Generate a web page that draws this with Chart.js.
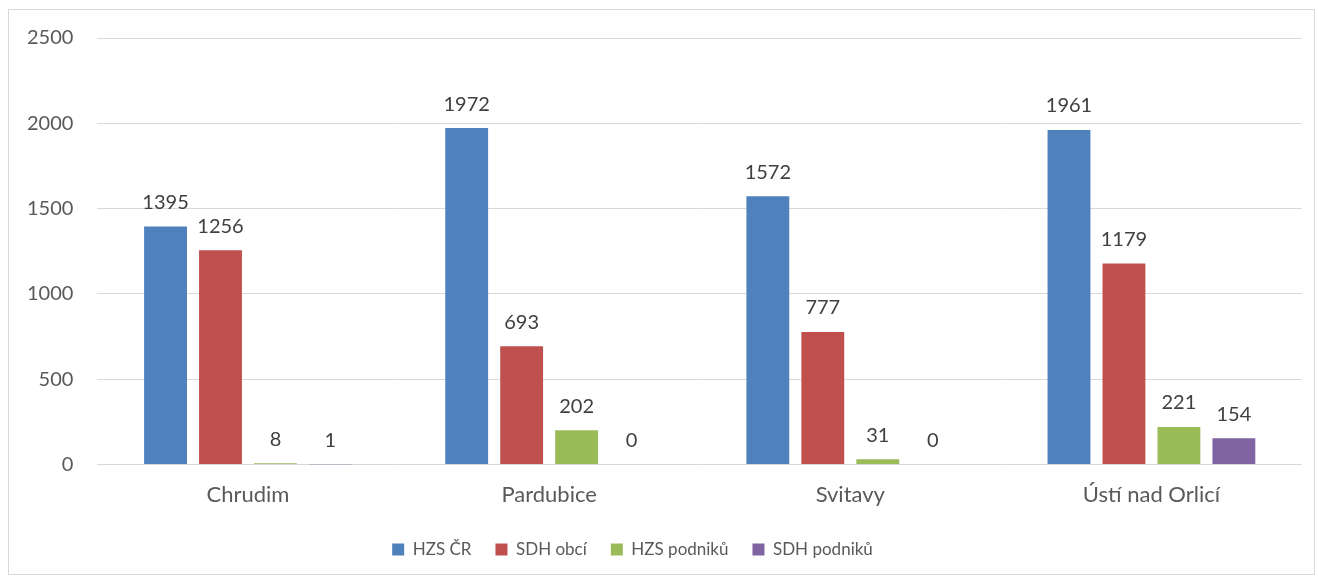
<!DOCTYPE html>
<html>
<head>
<meta charset="utf-8">
<script src="https://cdn.jsdelivr.net/npm/chart.js@4"></script>
<style>
  html, body { margin: 0; padding: 0; background: #fff; }
  #frame {
    position: absolute; left: 8px; top: 9px;
    width: 1307px; height: 566px;
    border: 1px solid #d9d9d9; box-sizing: border-box;
  }
  #chart { display: block; position: absolute; left: -7px; top: -8px; }
</style>
</head>
<body>
<div id="frame"><canvas id="chart" width="1312" height="574"></canvas></div>
<script>
const categories = ['Chrudim', 'Pardubice', 'Svitavy', 'Ústí nad Orlicí']
const hzsCr = [1395, 1972, 1572, 1961]
const sdhObci = [1256, 693, 777, 1179]
const hzsPodniku = [8, 202, 31, 221]
const sdhPodniku = [1, 0, 0, 154]
const yTicks = [0, 500, 1000, 1500, 2000, 2500]

const fontFamily = 'Lato, "Open Sans", sans-serif'

// draws the value above each bar
const valueLabels = {
  id: 'valueLabels',
  afterDatasetsDraw(chart) {
    const ctx = chart.ctx
    ctx.save()
    ctx.font = '20px ' + fontFamily
    ctx.fillStyle = '#404040'
    ctx.textAlign = 'center'
    ctx.textBaseline = 'bottom'
    chart.data.datasets.forEach((ds, i) => {
      const meta = chart.getDatasetMeta(i)
      meta.data.forEach((bar, j) => {
        ctx.fillText(String(ds.data[j]), bar.x, bar.y - 14)
      })
    })
    ctx.restore()
  }
}

// legend sits a bit left of centre in the original
const legendShift = {
  id: 'legendShift',
  afterLayout(chart) {
    chart.legend.left -= 20
    chart.legend.right -= 20
  }
}

const context = document.getElementById('chart').getContext('2d')
const chart = new Chart(context, {
  type: 'bar',
  data: {
    labels: categories,
    datasets: [{
      label: 'HZS ČR',
      backgroundColor: '#4F81BD',
      data: hzsCr,
    }, {
      label: 'SDH obcí',
      backgroundColor: '#C0504D',
      data: sdhObci,
    }, {
      label: 'HZS podniků',
      backgroundColor: '#9BBB59',
      data: hzsPodniku,
    }, {
      label: 'SDH podniků',
      backgroundColor: '#8064A2',
      data: sdhPodniku,
    }],
  },
  options: {
    responsive: false,
    animation: false,
    categoryPercentage: 0.73,
    barPercentage: 0.78,
    layout: { padding: { top: 6, right: 12, left: 1, bottom: 8 } },
    plugins: {
      legend: {
        position: 'bottom',
        labels: {
          boxWidth: 12,
          boxHeight: 12,
          padding: 24,
          color: '#595959',
          font: { family: fontFamily, size: 17 },
        },
      },
      tooltip: { enabled: false },
    },
    scales: {
      x: {
        grid: { display: false },
        border: { display: false },
        ticks: { color: '#595959', padding: 9, font: { family: fontFamily, size: 22 } },
      },
      y: {
        min: 0,
        max: 2500,
        afterBuildTicks: axis => { axis.ticks = yTicks.map(v => ({ value: v })) },
        grid: { color: '#d9d9d9', drawTicks: false },
        border: { display: false },
        ticks: {
          color: '#595959',
          padding: 24,
          font: { family: fontFamily, size: 20 },
          callback: v => String(v),
        },
      },
    },
  },
  plugins: [valueLabels, legendShift],
})
</script>
</body>
</html>
